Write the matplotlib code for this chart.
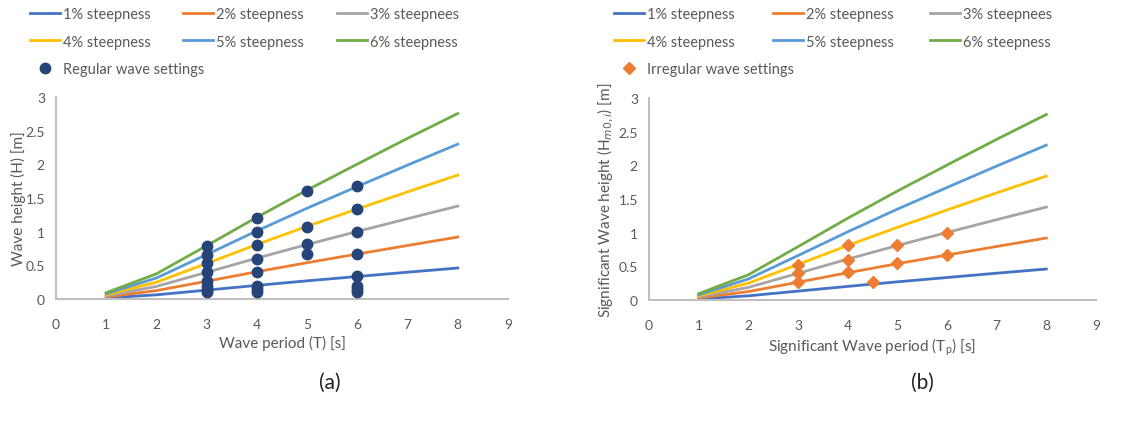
import matplotlib
matplotlib.use("Agg")
import matplotlib.pyplot as plt

plt.rcParams['font.family'] = ['Lato', 'DejaVu Sans']

# ---- data ----
periods = [1, 2, 3, 4, 5, 6, 7, 8]
steep_labels = ["1% steepness", "2% steepness", "3% steepnees",
                "4% steepness", "5% steepness", "6% steepness"]
h_1pct = [0.016, 0.062, 0.132, 0.202, 0.270, 0.334, 0.398, 0.460]
h_2pct = [0.031, 0.125, 0.264, 0.405, 0.539, 0.668, 0.795, 0.920]
h_3pct = [0.047, 0.187, 0.396, 0.607, 0.809, 1.003, 1.193, 1.380]
h_4pct = [0.062, 0.250, 0.528, 0.810, 1.079, 1.337, 1.591, 1.840]
h_5pct = [0.078, 0.312, 0.660, 1.012, 1.349, 1.671, 1.989, 2.300]
h_6pct = [0.094, 0.374, 0.792, 1.214, 1.618, 2.004, 2.386, 2.755]
steep_series = [h_1pct, h_2pct, h_3pct, h_4pct, h_5pct, h_6pct]
steep_colors = ["#4472C4", "#ED7D31", "#A5A5A5", "#FFC000", "#5B9BD5", "#70AD47"]

reg_T = [3]*8 + [4]*8 + [5]*4 + [6]*8
reg_H = [0.10, 0.14, 0.20, 0.26, 0.40, 0.53, 0.66, 0.79,
         0.10, 0.15, 0.20, 0.40, 0.60, 0.80, 1.00, 1.20,
         0.67, 0.81, 1.07, 1.61,
         0.10, 0.15, 0.20, 0.34, 0.67, 1.00, 1.34, 1.68]

irr_Tp = [3, 3, 3, 4, 4, 4, 4.5, 5, 5, 6, 6]
irr_Hm0 = [0.52, 0.40, 0.26, 0.81, 0.60, 0.41, 0.26, 0.82, 0.545, 1.00, 0.67]

xticks = [0, 1, 2, 3, 4, 5, 6, 7, 8, 9]
yticks = [0, 0.5, 1, 1.5, 2, 2.5, 3]
ytick_labels = ["0", "0.5", "1", "1.5", "2", "2.5", "3"]

W, H = 1147, 427
fig = plt.figure(figsize=(W/100, H/100), dpi=100)
ax1 = fig.add_axes([56/W, 1-300/H, (508-56)/W, (300-98)/H])
ax2 = fig.add_axes([649/W, 1-301/H, (1096-649)/W, (301-99)/H])

axis_col = "#BFBFBF"
txt_col = "#595959"

def style(ax):
    ax.set_xlim(0, 9)
    ax.set_ylim(0, 3)
    ax.set_xticks(xticks)
    ax.set_yticks(yticks)
    ax.set_yticklabels(ytick_labels)
    for s in ["top", "right"]:
        ax.spines[s].set_visible(False)
    for s in ["left", "bottom"]:
        ax.spines[s].set_color(axis_col)
        ax.spines[s].set_linewidth(1.5)
    ax.tick_params(length=0, labelsize=10, colors=txt_col)
    ax.tick_params(axis='x', pad=14)
    ax.tick_params(axis='y', pad=8)

for ax in (ax1, ax2):
    style(ax)
    for vals, col, lab in zip(steep_series, steep_colors, steep_labels):
        ax.plot(periods, vals, color=col, lw=2.0, label=lab, zorder=2)

ax1.plot(reg_T, reg_H, 'o', color="#264478", ms=7.5, zorder=3,
         label="Regular wave settings")
ax2.plot(irr_Tp, irr_Hm0, 'D', color="#ED7D31", ms=6.5, zorder=3,
         label="Irregular wave settings")

ax1.set_ylabel("Wave height (H) [m]", fontsize=11, color=txt_col, labelpad=-0.5)
ax1.set_xlabel("Wave period (T) [s]", fontsize=11, color=txt_col, labelpad=3)
ax2.set_ylabel(r"Significant Wave height (H$_{m0,i}$) [m]", fontsize=11,
               color=txt_col, labelpad=2)
ax2.set_xlabel(r"Significant Wave period (T$_\mathregular{p}$) [s]", fontsize=11,
               color=txt_col, labelpad=3)

def make_legends(ax, col_x):
    handles, labels = ax.get_legend_handles_labels()
    columns = [[0, 3, 6], [1, 4], [2, 5]]
    for x0, idx in zip(col_x, columns):
        fig.legend([handles[i] for i in idx], [labels[i] for i in idx],
                   loc="upper left", bbox_to_anchor=(x0/W, 1-8/H),
                   frameon=False, fontsize=10.5, handlelength=2.05,
                   handletextpad=0.2, labelspacing=0.93,
                   borderpad=0, borderaxespad=0, labelcolor=txt_col)

make_legends(ax1, [30, 183, 337])
make_legends(ax2, [614, 773, 930])

fig.text(330/W, 1-383/H, "(a)", fontsize=15, ha="center", va="center", color="#222222")
fig.text(922/W, 1-383/H, "(b)", fontsize=15, ha="center", va="center", color="#222222")

fig.savefig("out.png", dpi=100)
